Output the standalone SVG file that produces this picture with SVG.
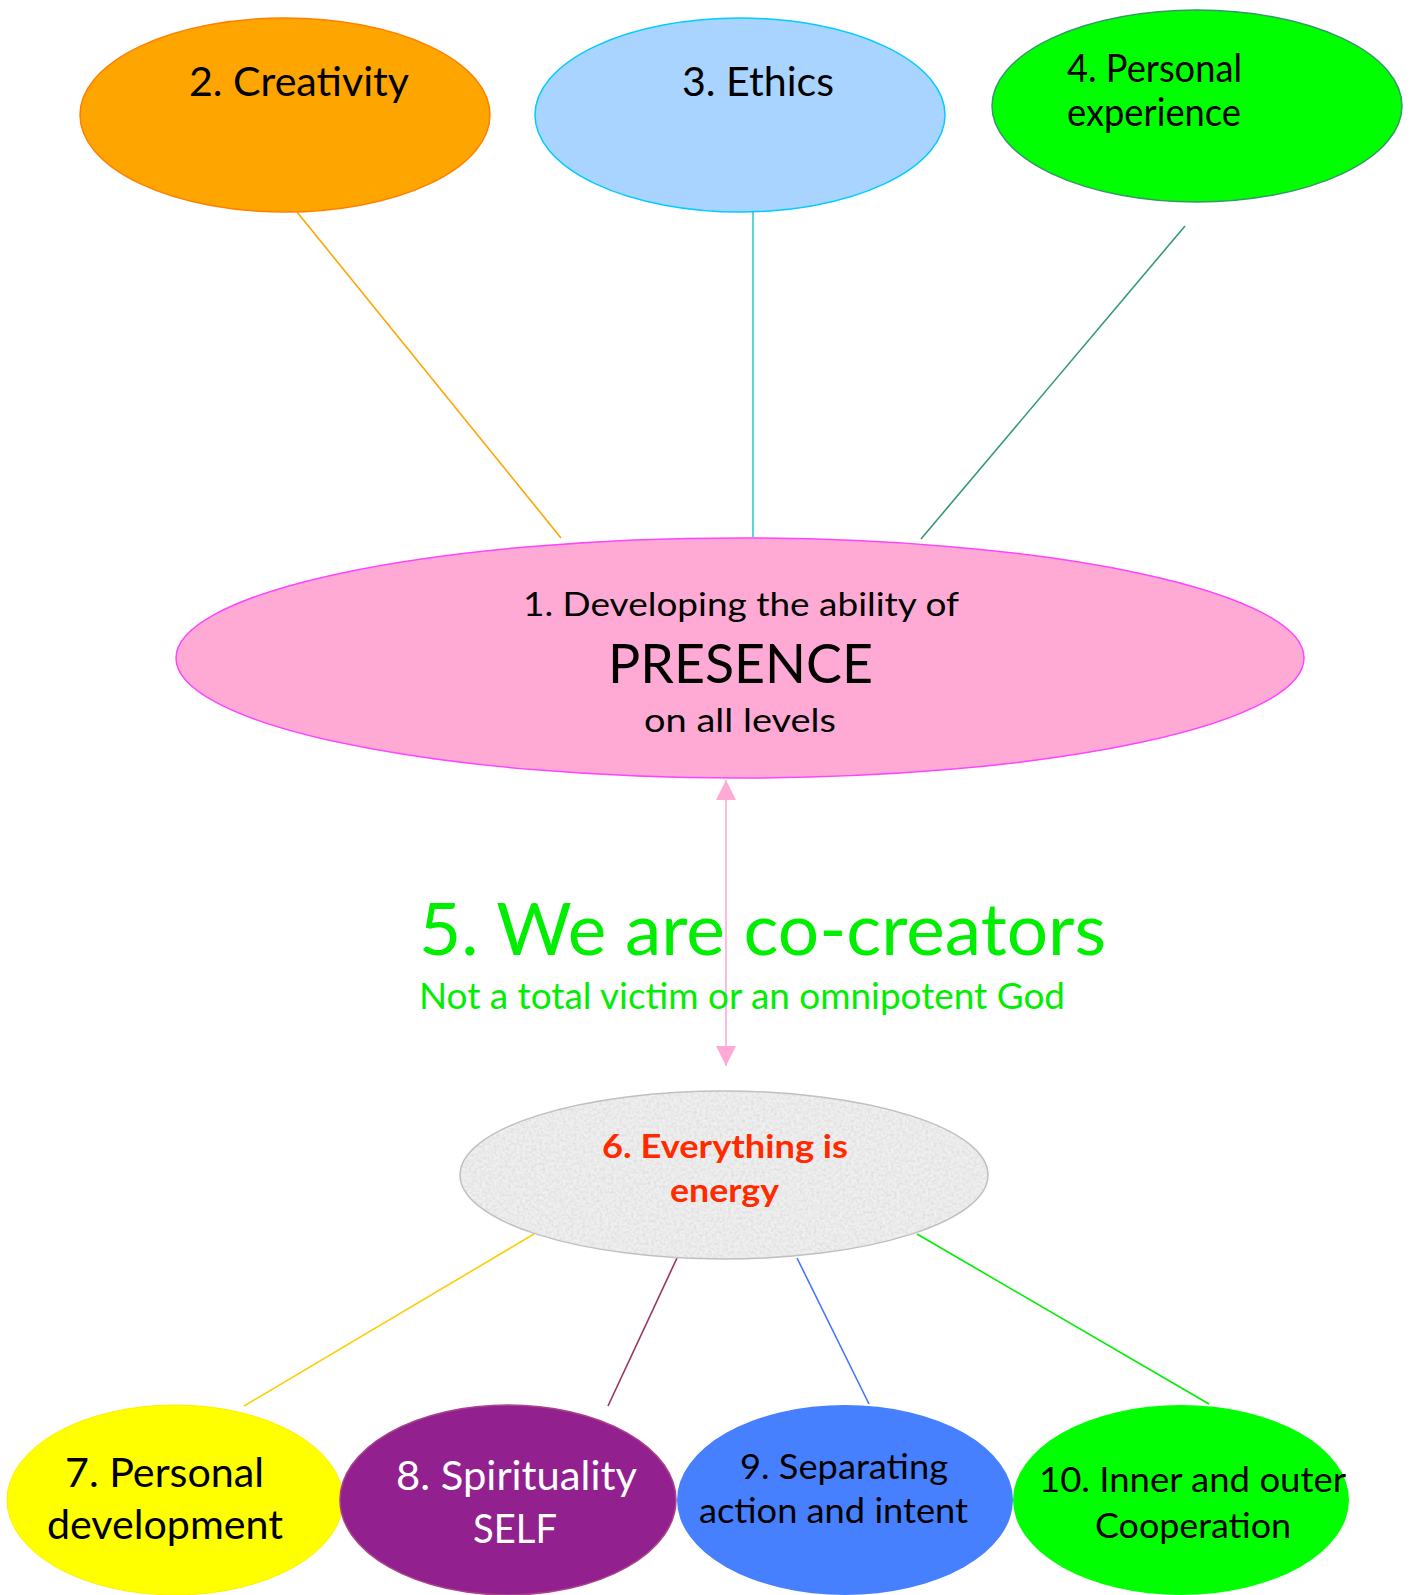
<svg xmlns="http://www.w3.org/2000/svg" width="1413" height="1595" viewBox="0 0 1413 1595">
<style>
text { font-family: Lato, "Open Sans", "Liberation Sans", sans-serif; fill: #000; }
.t40 { font-size: 40px; }
.t33 { font-size: 33px; }
.t38 { font-size: 38px; }
.t35 { font-size: 35px; }
.conn { fill: none; stroke-width: 1.6; }
</style>
<defs>
<marker id="pinkHead" viewBox="0 0 20 20" refX="20" refY="10" markerWidth="20" markerHeight="20" markerUnits="userSpaceOnUse" orient="auto-start-reverse">
<path d="M0,0 L20,10 L0,20 Z" fill="#FFAAD4"/>
</marker>
<filter id="noise" x="0" y="0" width="100%" height="100%">
<feTurbulence type="fractalNoise" baseFrequency="0.35" numOctaves="3" seed="5" result="t"/>
<feColorMatrix in="t" type="matrix" values="0 0 0 0 0.72  0 0 0 0 0.72  0 0 0 0 0.72  1.8 0 0 0 -0.6" result="spots"/>
<feComposite in="spots" in2="SourceAlpha" operator="in" result="clip"/>
<feMerge><feMergeNode in="SourceGraphic"/><feMergeNode in="clip"/></feMerge>
</filter>
</defs>
<rect width="1413" height="1595" fill="#FFFFFF"/>

<g id="connectors">
<line class="conn" x1="297" y1="212" x2="561" y2="538" stroke="#FFA500"/>
<line class="conn" x1="753" y1="212" x2="753" y2="537" stroke="#33CCCC"/>
<line class="conn" x1="1185" y1="226" x2="921" y2="539" stroke="#339977"/>
<line class="conn" x1="726" y1="780" x2="726" y2="1066" stroke="#FFAAD4" marker-start="url(#pinkHead)" marker-end="url(#pinkHead)"/>
<line class="conn" x1="534" y1="1234" x2="244" y2="1406" stroke="#FFCC00"/>
<line class="conn" x1="677" y1="1258" x2="608" y2="1406" stroke="#993366"/>
<line class="conn" x1="797" y1="1258" x2="869" y2="1404" stroke="#4477FF"/>
<line class="conn" x1="917" y1="1234" x2="1209" y2="1404" stroke="#00EE00"/>
</g>

<g id="node2">
<ellipse cx="285" cy="115" rx="205" ry="97" fill="#FFA500" stroke="#FF8000" stroke-width="1.5"/>
<text class="t40" x="189" y="96" textLength="220" lengthAdjust="spacingAndGlyphs">2. Creativity</text>
</g>

<g id="node3">
<ellipse cx="740" cy="115" rx="205" ry="97" fill="#A8D4FF" stroke="#00CCFF" stroke-width="1.5"/>
<text class="t40" x="682" y="96" textLength="152" lengthAdjust="spacingAndGlyphs">3. Ethics</text>
</g>

<g id="node4">
<ellipse cx="1197" cy="106" rx="205" ry="96" fill="#00FF00" stroke="#339966" stroke-width="1.5"/>
<text class="t38" x="1067" y="82" textLength="175" lengthAdjust="spacingAndGlyphs">4. Personal</text>
<text class="t38" x="1067" y="126" textLength="174" lengthAdjust="spacingAndGlyphs">experience</text>
</g>

<g id="node1">
<ellipse cx="740" cy="658" rx="564" ry="120" fill="#FFAAD4" stroke="#FF44FF" stroke-width="1.5"/>
<text class="t33" x="523" y="616" textLength="436" lengthAdjust="spacingAndGlyphs">1. Developing the ability of</text>
<text x="608" y="683" font-size="55" textLength="265" lengthAdjust="spacingAndGlyphs">PRESENCE</text>
<text class="t33" x="644" y="732" textLength="192" lengthAdjust="spacingAndGlyphs">on all levels</text>
</g>

<g id="node5">
<text x="419" y="955" font-size="72" style="fill:#00EE00" textLength="687" lengthAdjust="spacingAndGlyphs">5. We are co-creators</text>
<text x="419" y="1009" font-size="36" style="fill:#00EE00" textLength="646" lengthAdjust="spacingAndGlyphs">Not a total victim or an omnipotent God</text>
</g>

<g id="node6">
<ellipse cx="724" cy="1175" rx="264" ry="84" fill="#F0F0F0" filter="url(#noise)"/>
<ellipse cx="724" cy="1175" rx="264" ry="84" fill="none" stroke="#C0C0C0" stroke-width="1.5"/>
<text x="602" y="1158" font-size="32" font-weight="bold" style="fill:#FF2A00" textLength="246" lengthAdjust="spacingAndGlyphs">6. Everything is</text>
<text x="670" y="1202" font-size="32" font-weight="bold" style="fill:#FF2A00" textLength="109" lengthAdjust="spacingAndGlyphs">energy</text>
</g>

<g id="node7">
<ellipse cx="175" cy="1500" rx="168" ry="95" fill="#FFFF00" stroke="#FFEE00" stroke-width="1"/>
<text class="t40" x="65" y="1487" textLength="199" lengthAdjust="spacingAndGlyphs">7. Personal</text>
<text class="t40" x="47" y="1539" textLength="236" lengthAdjust="spacingAndGlyphs">development</text>
</g>

<g id="node8">
<ellipse cx="508" cy="1500" rx="168" ry="95" fill="#93208F" stroke="#AA4488" stroke-width="1.5"/>
<text class="t40" x="396" y="1490" style="fill:#FFFFFF" textLength="241" lengthAdjust="spacingAndGlyphs">8. Spirituality</text>
<text class="t40" x="473" y="1543" style="fill:#FFFFFF" textLength="84" lengthAdjust="spacingAndGlyphs">SELF</text>
</g>

<g id="node9">
<ellipse cx="845" cy="1500" rx="168" ry="95" fill="#4680FF"/>
<text class="t35" x="740" y="1479" textLength="208" lengthAdjust="spacingAndGlyphs">9. Separating</text>
<text class="t35" x="699" y="1523" textLength="269" lengthAdjust="spacingAndGlyphs">action and intent</text>
</g>

<g id="node10">
<ellipse cx="1181" cy="1500" rx="168" ry="95" fill="#00FF00"/>
<text class="t35" x="1039" y="1492" textLength="307" lengthAdjust="spacingAndGlyphs">10. Inner and outer</text>
<text class="t35" x="1095" y="1538" textLength="196" lengthAdjust="spacingAndGlyphs">Cooperation</text>
</g>
</svg>
